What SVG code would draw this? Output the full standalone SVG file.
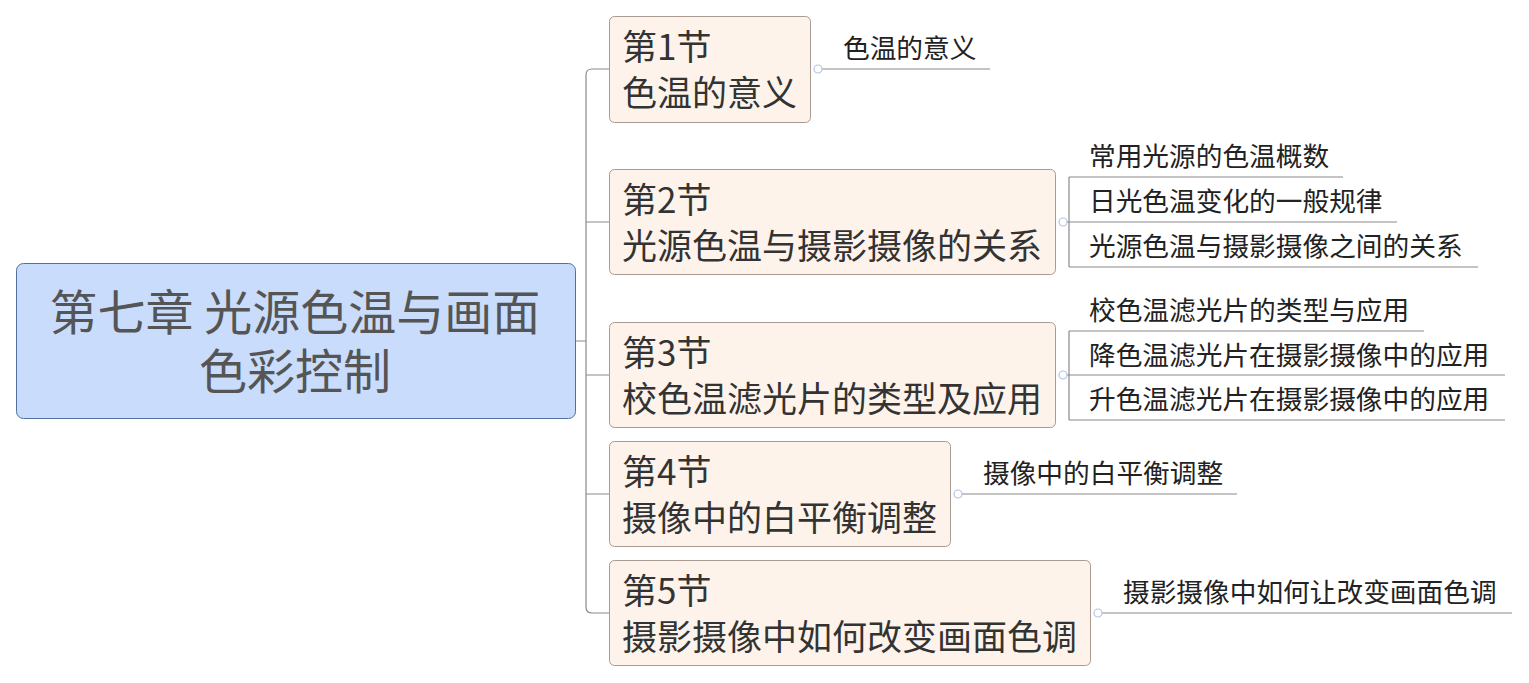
<svg xmlns="http://www.w3.org/2000/svg" width="1529" height="683" viewBox="0 0 1529 683">
<style>
text{font-family:"Microsoft YaHei","Noto Sans CJK SC","Noto Sans",sans-serif}
.central{fill:#c9dcfc;stroke:#50709e;stroke-width:1}
.ct{font-size:48px;fill:#555;text-anchor:middle}
.main{fill:#fdf3eb;stroke:#a99b91;stroke-width:1}
.mt{font-size:35px;fill:#333}
.st{font-size:26.7px;fill:#222}
.ln{fill:none;stroke:#8a8a8a;stroke-width:1.2}
.dot{fill:#fff;stroke:#b3c3e6;stroke-width:1.2}
</style>
<g id="connectors">
<path class="ln" d="M575 341H586M609 69H592Q586 69 586 75V607Q586 613 592 613H609M586 222H609M586 375H609M586 494H609"/>
<path class="ln" d="M822 69H990"/>
<path class="ln" d="M1067 222H1069M1069 177V267M1069 177H1343M1069 222H1397M1069 267H1478"/>
<path class="ln" d="M1067 375H1069M1069 331V420M1069 331H1424M1069 375H1505M1069 420H1505"/>
<path class="ln" d="M962 494H1237"/>
<path class="ln" d="M1102 613H1512"/>
<circle class="dot" cx="818" cy="69" r="4"/>
<circle class="dot" cx="1063" cy="222" r="4"/>
<circle class="dot" cx="1063" cy="375" r="4"/>
<circle class="dot" cx="958" cy="494" r="4"/>
<circle class="dot" cx="1098" cy="613" r="4"/>
</g>
<g id="central">
<rect class="central" x="16.5" y="263.5" width="559" height="155" rx="7"/>
<text class="ct" x="295" y="330">第七章 光源色温与画面</text>
<text class="ct" x="295" y="389">色彩控制</text>
</g>
<g id="node1">
<rect class="main" x="609.5" y="16.5" width="201" height="106" rx="5"/>
<text class="mt" x="622" y="60">第1节</text>
<text class="mt" x="622" y="106">色温的意义</text>
<text class="st" x="843" y="58">色温的意义</text>
</g>
<g id="node2">
<rect class="main" x="609.5" y="169.5" width="446" height="105" rx="5"/>
<text class="mt" x="622" y="213">第2节</text>
<text class="mt" x="622" y="259">光源色温与摄影摄像的关系</text>
<text class="st" x="1089" y="166">常用光源的色温概数</text>
<text class="st" x="1089" y="211">日光色温变化的一般规律</text>
<text class="st" x="1089" y="256">光源色温与摄影摄像之间的关系</text>
</g>
<g id="node3">
<rect class="main" x="609.5" y="322.5" width="446" height="105" rx="5"/>
<text class="mt" x="622" y="366">第3节</text>
<text class="mt" x="622" y="412">校色温滤光片的类型及应用</text>
<text class="st" x="1089" y="320">校色温滤光片的类型与应用</text>
<text class="st" x="1089" y="365">降色温滤光片在摄影摄像中的应用</text>
<text class="st" x="1089" y="409">升色温滤光片在摄影摄像中的应用</text>
</g>
<g id="node4">
<rect class="main" x="609.5" y="441.5" width="341" height="105" rx="5"/>
<text class="mt" x="622" y="485">第4节</text>
<text class="mt" x="622" y="531">摄像中的白平衡调整</text>
<text class="st" x="983" y="483">摄像中的白平衡调整</text>
</g>
<g id="node5">
<rect class="main" x="609.5" y="560.5" width="481" height="105" rx="5"/>
<text class="mt" x="622" y="604">第5节</text>
<text class="mt" x="622" y="650">摄影摄像中如何改变画面色调</text>
<text class="st" x="1123" y="602">摄影摄像中如何让改变画面色调</text>
</g>
</svg>
